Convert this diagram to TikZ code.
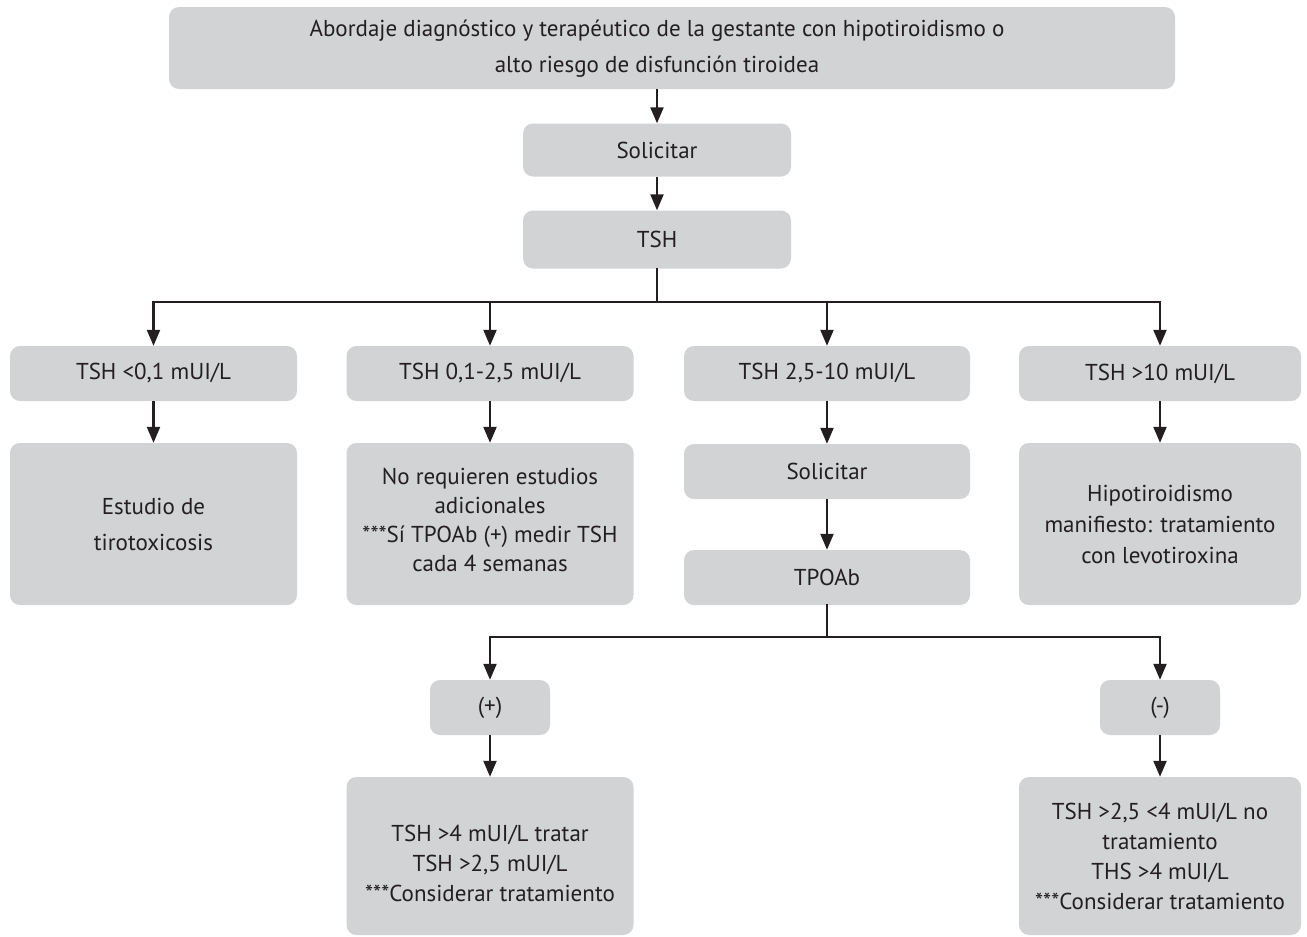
\documentclass[tikz,border=0pt]{standalone}
\usepackage{fontspec}
\setmainfont{PT Sans}
\usetikzlibrary{arrows.meta}
\definecolor{boxgray}{HTML}{D1D3D4}
\definecolor{ink}{HTML}{231F20}
\tikzset{
  box/.style={rectangle, rounded corners=10pt, fill=boxgray, draw=none, inner sep=0pt,
    align=center, text=ink, font=\fontsize{23}{30}\selectfont},
  plain/.style={inner sep=0pt, align=center, text=ink, font=\fontsize{23}{36}\selectfont},
  ln/.style={draw=ink, line width=2.2pt, line cap=rect},
  arr/.style={draw=ink, line width=2.2pt, -{Triangle[length=16pt,width=13pt]}}
}
\begin{document}
\begin{tikzpicture}[x=1pt,y=-1pt]
\useasboundingbox (0,0) rectangle (1307,937);
% top
\node[box, minimum width=1006pt, minimum height=82pt] (topbox) at (672,48) {};
\node[plain] (top) at (657,49)
  {Abordaje diagnóstico y terapéutico de la gestante con hipotiroidismo o\\alto riesgo de disfunción tiroidea};
\node[box, minimum width=268pt, minimum height=53pt] (sol1) at (657,150) {Solicitar};
\node[box, minimum width=268pt, minimum height=58pt] (tsh) at (657,239.5) {TSH};
% row 1
\node[box, minimum width=287pt, minimum height=55pt] (a1) at (153.5,373.5) {TSH <0,1 mUI/L};
\node[box, minimum width=287pt, minimum height=55pt] (a2) at (490,373.5) {TSH 0,1-2,5 mUI/L};
\node[box, minimum width=286pt, minimum height=55pt] (a3) at (827,373.5) {TSH 2,5-10 mUI/L};
\node[box, minimum width=282pt, minimum height=55pt] (a4) at (1160,373.5) {TSH >10 mUI/L};
% row 2
\node[box, minimum width=287pt, minimum height=162pt, font=\fontsize{23}{36}\selectfont] (b1) at (153.5,524) {Estudio de\\tirotoxicosis};
\node[box, minimum width=287pt, minimum height=162pt] (b2) at (490,524) {};
\node[plain, font=\fontsize{23}{29}\selectfont] (b2t) at (490,519.5)
  {No requieren estudios\\adicionales\\***Sí TPOAb (+) medir TSH\\cada 4 semanas};
\node[box, minimum width=286pt, minimum height=55pt] (sol2) at (827,471.5) {Solicitar};
\node[box, minimum width=286pt, minimum height=55pt] (tpo) at (827,577.5) {TPOAb};
\node[box, minimum width=282pt, minimum height=162pt, font=\fontsize{23}{31}\selectfont] (b4) at (1160,524)
  {Hipotiroidismo\\manifiesto: tratamiento\\con levotiroxina};
% row 3
\node[box, minimum width=120pt, minimum height=55pt] (plus) at (490,707.5) {(+)};
\node[box, minimum width=120pt, minimum height=55pt] (minus) at (1160,707.5) {(-)};
% row 4
\node[box, minimum width=287pt, minimum height=158pt] (c1) at (490,856) {};
\node[plain, font=\fontsize{23}{30}\selectfont] (c1t) at (490,863)
  {TSH >4 mUI/L tratar\\TSH >2,5 mUI/L\\***Considerar tratamiento};
\node[box, minimum width=282pt, minimum height=158pt] (c2) at (1160,856)
  {TSH >2,5 <4 mUI/L no\\tratamiento\\THS >4 mUI/L\\***Considerar tratamiento};
% connectors
\coordinate (bus1) at (657,302);
\coordinate (bus2) at (827,637);
\draw[arr] (topbox.south -| sol1.north) -- (sol1.north);
\draw[arr] (sol1.south) -- (tsh.north);
\draw[ln] (tsh.south) -- (bus1);
\draw[ln] (a1.north |- bus1) -- (a4.north |- bus1);
\draw[arr] (a1.north |- bus1) -- (a1.north);
\draw[arr] (a2.north |- bus1) -- (a2.north);
\draw[arr] (a3.north |- bus1) -- (a3.north);
\draw[arr] (a4.north |- bus1) -- (a4.north);
\draw[arr] (a1.south) -- (b1.north);
\draw[arr] (a2.south) -- (b2.north);
\draw[arr] (a3.south) -- (sol2.north);
\draw[arr] (a4.south) -- (b4.north);
\draw[arr] (sol2.south) -- (tpo.north);
\draw[ln] (tpo.south) -- (bus2);
\draw[ln] (plus.north |- bus2) -- (minus.north |- bus2);
\draw[arr] (plus.north |- bus2) -- (plus.north);
\draw[arr] (minus.north |- bus2) -- (minus.north);
\draw[arr] (plus.south) -- (c1.north);
\draw[arr] (minus.south) -- (c2.north);
\end{tikzpicture}
\end{document}
